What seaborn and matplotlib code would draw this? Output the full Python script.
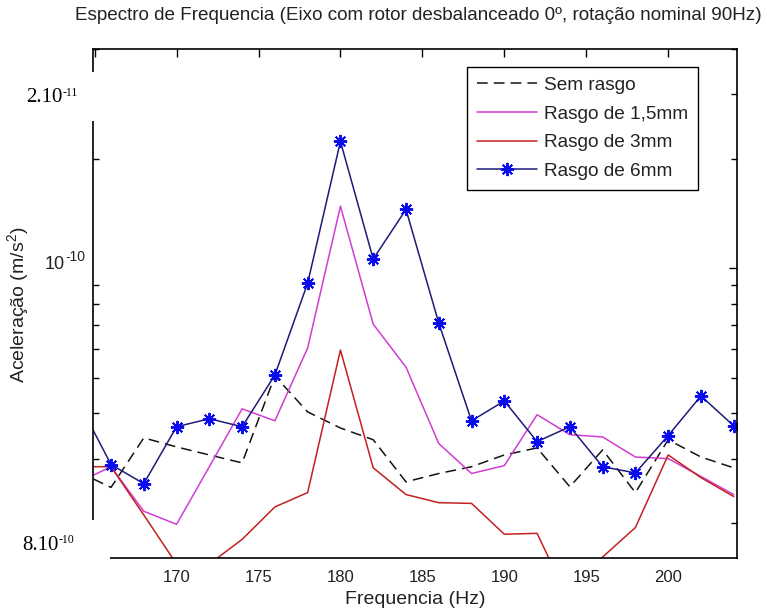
import numpy as np
import pandas as pd
import matplotlib
matplotlib.use("Agg")
import matplotlib.pyplot as plt
from matplotlib.patches import Rectangle
from matplotlib.ticker import LogLocator, FixedLocator, NullFormatter
from matplotlib.transforms import blended_transform_factory, ScaledTranslation
import seaborn as sns

# Frequency bins (Hz)
freq = [164, 166, 168, 170, 172, 174, 176, 178, 180, 182, 184,
        186, 188, 190, 192, 194, 196, 198, 200, 202, 204]

# Acceleration amplitude, in units of 1e-11 m/s^2
sem_rasgo = [2.76, 2.50, 3.42, 3.23, 3.07, 2.92, 5.06, 4.03, 3.64, 3.38, 2.59,
             2.73, 2.85, 3.07, 3.21, 2.51, 3.17, 2.42, 3.38, 3.03, 2.83]
rasgo_1_5mm = [2.58, 2.85, 2.15, 1.98, 2.85, 4.11, 3.81, 6.04, 14.8, 7.02, 5.35,
               3.30, 2.73, 2.87, 3.96, 3.49, 3.44, 3.03, 3.00, 2.68, 2.39]
rasgo_3mm = [2.85, 2.85, 2.10, 1.54, 1.54, 1.80, 2.21, 2.42, 5.96, 2.83, 2.39,
             2.27, 2.26, 1.86, 1.87, 1.21, 1.61, 1.94, 3.07, 2.66, 2.36]
rasgo_6mm = [4.30, 2.89, 2.56, 3.67, 3.86, 3.67, 5.09, 9.10, 22.3, 10.6, 14.5,
             7.07, 3.81, 4.32, 3.34, 3.67, 2.85, 2.74, 3.47, 4.46, 3.69]
scale = 1e-11

series_names = ["Sem rasgo", "Rasgo de 1,5mm", "Rasgo de 3mm", "Rasgo de 6mm"]
x_ticks = [165, 170, 175, 180, 185, 190, 195, 200]
y_label_decade = 1e-10

sns.set_style("white")
SANS = ["Liberation Sans", "DejaVu Sans"]
SERIF = ["Liberation Serif", "DejaVu Serif"]
plt.rcParams["font.family"] = SANS
plt.rcParams["mathtext.fontset"] = "custom"
plt.rcParams["mathtext.rm"] = "Liberation Sans"
plt.rcParams["mathtext.it"] = "Liberation Sans"
plt.rcParams["mathtext.default"] = "rm"

W, H = 767, 610
fig = plt.figure(figsize=(W / 100, H / 100), dpi=100)
fig.patch.set_facecolor("white")

def fx(px):
    return px / W

def fy(py):
    return 1 - py / H

ax_l, ax_r, ax_t, ax_b = 93, 737, 49, 558
ax = fig.add_axes([fx(ax_l), fy(ax_b), (ax_r - ax_l) / W, (ax_b - ax_t) / H])
ax.set_facecolor("white")

df = pd.DataFrame({
    "freq": freq * 4,
    "acc": [v * scale for v in sem_rasgo + rasgo_1_5mm + rasgo_3mm + rasgo_6mm],
    "serie": sum([[n] * len(freq) for n in series_names], []),
})

styles = {
    "Sem rasgo": dict(color="#141414", linestyle=(0, (7, 4)), lw=1.1),
    "Rasgo de 1,5mm": dict(color="#d23cd2", linestyle="-", lw=1.1),
    "Rasgo de 3mm": dict(color="#c42020", linestyle="-", lw=1.1),
    "Rasgo de 6mm": dict(color="#1c1c78", linestyle="-", lw=1.1,
                         marker=(8, 2, 0), markersize=9.5,
                         markeredgecolor="#0a0aee", markerfacecolor="#0a0aee",
                         markeredgewidth=1.4),
}

handles = []
for name in series_names:
    sub = df[df["serie"] == name]
    sns.lineplot(data=sub, x="freq", y="acc", ax=ax, label=name,
                 estimator=None, sort=False, legend=False, **styles[name])
    handles.append(ax.lines[-1])

ax.set_yscale("log")
ax.set_xlim(164.9, 204.2)
ax.set_ylim(1.6e-11, 4.0e-10)

ax.xaxis.set_major_locator(FixedLocator(x_ticks))
ax.yaxis.set_major_locator(LogLocator(base=10))
ax.yaxis.set_minor_locator(LogLocator(base=10, subs=np.arange(2, 10)))
ax.yaxis.set_major_formatter(NullFormatter())
ax.yaxis.set_minor_formatter(NullFormatter())

ax.tick_params(axis="both", which="major", direction="in", length=6, width=1,
               top=True, right=True, color="black", labelcolor="#222222")
ax.tick_params(axis="y", which="minor", direction="in", length=4, width=1,
               left=True, right=True, color="black")
ax.tick_params(axis="x", which="major", pad=9, labelsize=12)

for s in ax.spines.values():
    s.set_visible(True)
    s.set_color("black")
    s.set_linewidth(1.2)

ax.set_xlabel("Frequencia (Hz)", fontsize=14, color="#222222", labelpad=4)
ax.set_ylabel("Aceleração (m/s$^2$)", fontsize=14, color="#222222", labelpad=6)
ax.yaxis.set_label_coords(fx(18), 0.5, transform=fig.transFigure)
ax.yaxis.label.set_va("center")

fig.text(fx(418), fy(15), "Espectro de Frequencia (Eixo com rotor desbalanceado 0º, rotação nominal 90Hz)",
         ha="center", va="center", fontsize=13.6, color="#222222")

leg = ax.legend(handles=handles, labels=series_names, loc="upper left",
                bbox_to_anchor=(fx(467), fy(67)), bbox_transform=fig.transFigure,
                borderaxespad=0, fancybox=False, framealpha=1, edgecolor="black",
                fontsize=13.7, handlelength=3.2, handletextpad=0.37,
                labelspacing=0.6, borderpad=0.5)
leg.get_frame().set_linewidth(1.0)
for t in leg.get_texts():
    t.set_color("#222222")

renderer = fig.canvas.get_renderer()

def power_label(x, y, base, sup, transform, family, size, sup_size, color, rise):
    t = fig.text(x, y, base, family=family, fontsize=size, ha="left",
                 va="center", color=color, zorder=6, transform=transform)
    bb = t.get_window_extent(renderer=renderer)
    up = ScaledTranslation(0, rise / 100, fig.dpi_scale_trans)
    x_sup = transform.inverted().transform((bb.x1, bb.y0))[0]
    fig.text(x_sup, y, sup, family=family, fontsize=sup_size, ha="left",
             va="center", color=color, zorder=6, transform=transform + up)

# decade label on the log axis
ytrans = blended_transform_factory(fig.transFigure, ax.transData)
power_label(fx(45), y_label_decade, "10", "-10",
            ytrans + ScaledTranslation(0, 4 / 100, fig.dpi_scale_trans),
            SANS, 13, 10, "#222222", 7)

# white boxes with pasted labels on the left margin
fig.add_artist(Rectangle((fx(20), fy(121)), (100 - 20) / W, 49 / H,
                         transform=fig.transFigure, facecolor="white",
                         edgecolor="none", zorder=5))
fig.add_artist(Rectangle((fx(76), fy(586)), (110 - 76) / W, 66 / H,
                         transform=fig.transFigure, facecolor="white",
                         edgecolor="none", zorder=5))

power_label(fx(26), fy(98), "2.10", "-11", fig.transFigure, SERIF, 15, 8.5, "black", 5)
power_label(fx(22), fy(545), "8.10", "-10", fig.transFigure, SERIF, 15, 8.5, "black", 5)

fig.savefig("out.png", dpi=100, facecolor="white")
